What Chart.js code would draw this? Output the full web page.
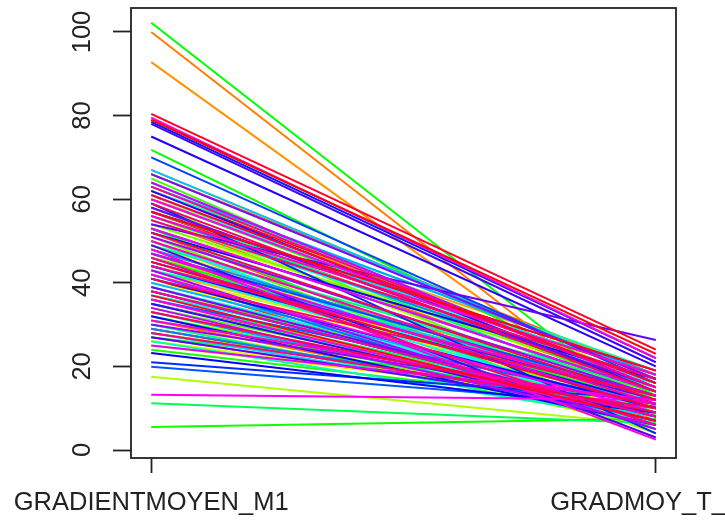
<!DOCTYPE html>
<html>
<head>
<meta charset="utf-8">
<script src="https://cdn.jsdelivr.net/npm/chart.js@4.4.0/dist/chart.umd.min.js"></script>
<style>
  html, body { margin: 0; padding: 0; background: #fff; }
  #wrap { width: 725px; height: 521px; }
</style>
</head>
<body>
<div id="wrap"><canvas id="chart" width="725" height="521"></canvas></div>
<script>
// axis labels (the second one runs off the right edge, as in the original)
const xLabels = ['GRADIENTMOYEN_M1', 'GRADMOY_T_M1'];
const xPositions = [1, 2];
const yTicks = [0, 20, 40, 60, 80, 100];

// one value per line (left end / right end)
const gradM1 = [
  48, 62, 35, 57, 41, 29, 66, 44, 52, 38,
  55, 31, 100, 46, 92.8, 60, 27, 50, 43, 67,
  36, 58, 25, 49, 40, 61, 33, 53, 26, 45,
  42, 56, 17.5, 30, 63, 47, 37, 54, 28, 59,
  51, 34, 44, 65, 39, 57, 24, 5.5, 71.8, 102.2,
  46, 32, 60, 27, 53, 41, 66, 11.2, 36, 49,
  58, 30, 43, 62, 35, 52, 26, 47, 64, 39,
  55, 44, 31, 61, 50, 37, 57, 28, 45, 67,
  40, 63, 33, 48, 56, 29, 42, 53, 36, 19.9,
  47, 70, 38, 21, 59, 78.5, 44, 23.2, 52, 32,
  41, 75, 62, 35, 78, 49, 27, 54, 45, 58,
  39, 66, 30, 51, 43, 57, 34, 64, 47, 25,
  53, 42, 13.2, 60, 36, 79.5, 48, 31, 56, 44,
  50, 38, 63, 46, 28, 55, 41, 59, 33, 52,
  45, 61, 80.4, 37, 57, 79
];
const gradT = [
  12, 16, 9, 14, 5, 8, 18, 11, 7, 10,
  13, 7, 6, 15, 6, 19, 9, 4, 12, 17,
  8, 15, 11, 6, 14, 12, 5, 17, 10, 9,
  13, 10, 6, 7, 16, 4, 12, 15, 11, 8,
  6, 9, 14, 12, 7, 18, 10, 7.5, 13, 8,
  11, 8, 15, 13, 5, 10, 17, 6.4, 9, 14,
  12, 6, 16, 19, 8, 11, 7, 13, 15, 10,
  16, 9, 12, 14, 6, 11, 18, 8, 13, 17,
  10, 18, 7, 12, 15, 9, 5, 14, 11, 10.4,
  13, 16, 8, 12, 4, 22, 11, 9, 17, 6,
  10, 20, 14, 7, 21, 3, 9, 26.3, 12, 15,
  8, 17, 11, 13, 5, 19, 6, 15, 10, 12,
  14, 9, 12, 16, 7, 22, 2.5, 11, 18, 13,
  11, 8, 15, 6, 10, 17, 13, 14, 9, 12,
  10, 16, 24, 7, 19, 23
];

// R-like rainbow palette
function rainbowColor(i, n) {
    return 'hsl(' + (i / n * 360).toFixed(1) + ', 100%, 50%)';
}

const n = gradM1.length;
const datasets = gradM1.map((v, i) => ({
    data: [{ x: xPositions[0], y: v }, { x: xPositions[1], y: gradT[i] }],
    borderColor: rainbowColor(i, n),
    borderWidth: 2,
    pointRadius: 0,
    fill: false,
    tension: 0,
    order: n - i   // last column drawn on top, like matplot
}));

const axisColor = '#222';
const tickFont = { family: "'Liberation Sans', Arial, sans-serif", size: 25.5 };

// plot frame
const boxPlugin = {
    id: 'box',
    afterDatasetsDraw(chart) {
        const a = chart.chartArea;
        const ctx = chart.ctx;
        ctx.save();
        ctx.strokeStyle = axisColor;
        ctx.lineWidth = 1.8;
        ctx.strokeRect(a.left, a.top, a.right - a.left, a.bottom - a.top);
        ctx.restore();
    }
};

new Chart(document.getElementById('chart'), {
    type: 'line',
    data: { datasets: datasets },
    plugins: [boxPlugin],
    options: {
        responsive: false,
        animation: false,
        layout: { padding: { top: 8, right: 49, left: 0, bottom: 0 } },
        plugins: {
            legend: { display: false },
            tooltip: { enabled: false }
        },
        scales: {
            x: {
                type: 'linear',
                min: 0.96,
                max: 2.04,
                afterBuildTicks(s) { s.ticks = xPositions.map(v => ({ value: v })); },
                afterFit(s) { s.height = 63; s.paddingLeft = 0; s.paddingRight = 0; },
                grid: {
                    drawOnChartArea: false,
                    drawTicks: true,
                    tickLength: 15,
                    tickColor: axisColor,
                    tickWidth: 1.8
                },
                border: { display: false },
                ticks: {
                    autoSkip: false,
                    maxRotation: 0,
                    minRotation: 0,
                    padding: 15,
                    color: axisColor,
                    font: tickFont,
                    callback: (v) => xLabels[xPositions.indexOf(v)]
                }
            },
            y: {
                min: -1.91,
                max: 105.74,
                afterBuildTicks(s) { s.ticks = yTicks.map(v => ({ value: v })); },
                afterFit(s) { s.width = 131; s.paddingTop = 0; s.paddingBottom = 0; },
                grid: {
                    drawOnChartArea: false,
                    drawTicks: true,
                    tickLength: 18,
                    tickColor: axisColor,
                    tickWidth: 1.8
                },
                border: { display: false },
                ticks: {
                    minRotation: 90,
                    maxRotation: 90,
                    crossAlign: 'center',
                    padding: 9,
                    color: axisColor,
                    font: tickFont
                }
            }
        }
    }
});
</script>
</body>
</html>
